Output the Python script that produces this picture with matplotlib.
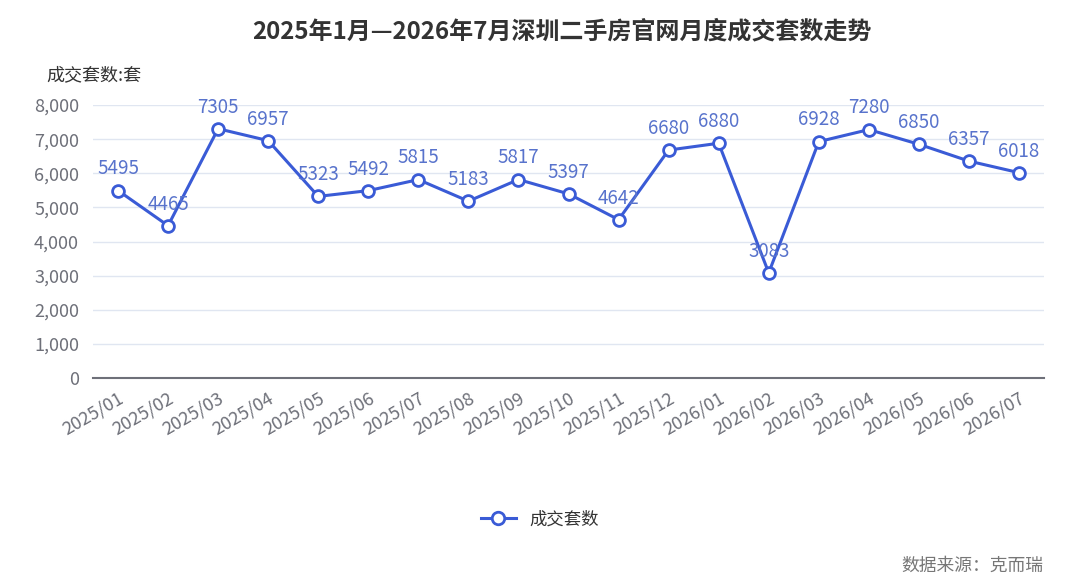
import matplotlib.pyplot as plt
from matplotlib.lines import Line2D

plt.rcParams['font.family'] = ['Noto Sans CJK SC', 'DejaVu Sans']

months = ["2025/01", "2025/02", "2025/03", "2025/04", "2025/05", "2025/06",
          "2025/07", "2025/08", "2025/09", "2025/10", "2025/11", "2025/12",
          "2026/01", "2026/02", "2026/03", "2026/04", "2026/05", "2026/06",
          "2026/07"]
deals = [5495, 4465, 7305, 6957, 5323, 5492, 5815, 5183, 5817, 5397, 4642,
         6680, 6880, 3083, 6928, 7280, 6850, 6357, 6018]
yticks = [0, 1000, 2000, 3000, 4000, 5000, 6000, 7000, 8000]

line_color = "#3a5bd6"
label_color = "#5873cc"
tick_color = "#6e7079"

fig = plt.figure(figsize=(10.8, 5.88), dpi=100)
ax = fig.add_axes([0.0861, 0.357, 0.8806, 0.4644])

x = list(range(len(months)))
ax.plot(x, deals, color=line_color, lw=2.2, marker="o", ms=8.5,
        mfc="white", mec=line_color, mew=2, zorder=3, clip_on=False)
for xi, v in zip(x, deals):
    ax.annotate(str(v), (xi, v), xytext=(0, 8), textcoords="offset points",
                ha="center", va="bottom", color=label_color, fontsize=13.5)

ax.set_xlim(-0.5, len(months) - 0.5)
ax.set_ylim(0, 8000)
ax.set_yticks(yticks)
ax.set_yticklabels([f"{t:,}" for t in yticks])
ax.set_xticks(x)
ax.set_xticklabels(months, rotation=30, ha="right", rotation_mode="anchor")
ax.tick_params(axis="both", colors=tick_color, labelsize=13, length=0)
ax.tick_params(axis="x", pad=8)
ax.tick_params(axis="y", pad=10)
ax.grid(axis="y", color="#e0e6f1", lw=1)
ax.set_axisbelow(True)
for s in ["top", "right", "left"]:
    ax.spines[s].set_visible(False)
ax.spines["bottom"].set_color("#6e7079")
ax.spines["bottom"].set_linewidth(1.5)

fig.text(0.52, 0.947, "2025年1月—2026年7月深圳二手房官网月度成交套数走势",
         ha="center", va="center", fontsize=17.3, fontweight="bold", color="#333333")
fig.text(0.043, 0.872, "成交套数:套", ha="left", va="center", fontsize=13,
         color="#333333")

handle = Line2D([], [], color=line_color, lw=2.2, marker="o", ms=9,
                mfc="white", mec=line_color, mew=2)
fig.legend([handle], ["成交套数"], loc="center", bbox_to_anchor=(0.5, 0.117),
           frameon=False, fontsize=12.5, handlelength=2, labelcolor="#333333")

fig.text(0.966, 0.037, "数据来源：克而瑞", ha="right", va="center",
         fontsize=12.8, color="#777777")

fig.savefig("out.png", dpi=100)
